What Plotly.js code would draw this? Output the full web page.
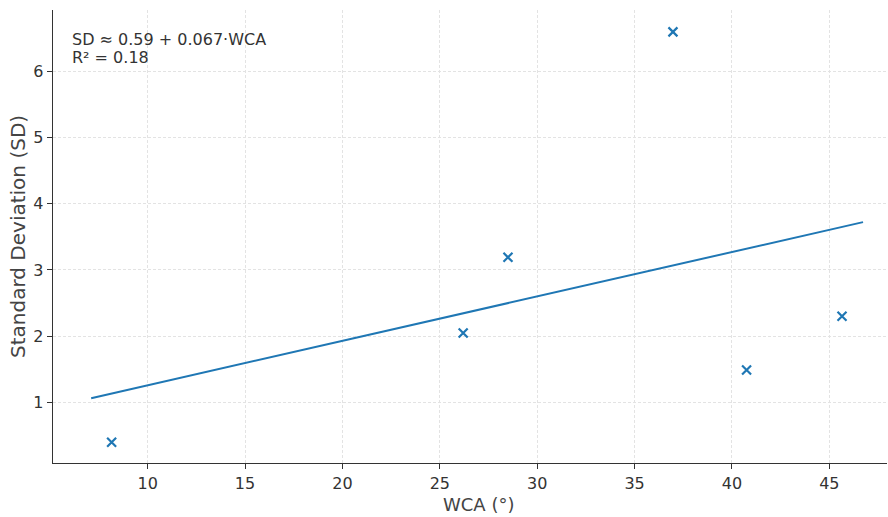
<!DOCTYPE html>
<html>
<head>
<meta charset="utf-8">
<script src="https://cdn.plot.ly/plotly-3.0.1.min.js"></script>
<style>html,body{margin:0;padding:0;background:#fff;}#chart{width:888px;height:517px;}</style>
</head>
<body>
<div id="chart"></div>
<script>
const wca = [8.15, 26.2, 28.5, 36.97, 40.75, 45.65];
const sd = [0.4, 2.05, 3.19, 6.59, 1.49, 2.3];
const intercept = 0.59;
const slope = 0.067;
const fitX = [7.1, 46.73];
const fitY = fitX.map(x => intercept + slope * x);
const eqLine1 = "SD ≈ 0.59 + 0.067·WCA";
const eqLine2 = "R² = 0.18";
const xTitle = "WCA (°)";
const yTitle = "Standard Deviation (SD)";
const xTicks = [10, 15, 20, 25, 30, 35, 40, 45];
const yTicks = [1, 2, 3, 4, 5, 6];

const font = "DejaVu Sans, sans-serif";
const data = [
  {x: fitX, y: fitY, mode: 'lines', type: 'scatter', line: {color: '#1f77b4', width: 2}, hoverinfo: 'skip'},
  {x: wca, y: sd, mode: 'markers', type: 'scatter',
   marker: {symbol: 'x-thin-open', size: 9, color: '#1f77b4', line: {color: '#1f77b4', width: 2.2}}}
];
const layout = {
  width: 888, height: 517,
  margin: {l: 53, r: 1, t: 10, b: 54},
  paper_bgcolor: '#fff', plot_bgcolor: '#fff',
  showlegend: false,
  font: {family: font, color: '#333'},
  xaxis: {
    range: [5.14, 47.96], tickvals: xTicks, ticktext: xTicks.map(String),
    showline: true, linecolor: '#333', linewidth: 1.3, mirror: false,
    ticks: 'outside', ticklen: 5, tickcolor: '#333', tickwidth: 1,
    tickfont: {family: font, size: 16, color: '#333'},
    showgrid: true, gridcolor: '#e3e3e3', gridwidth: 1, griddash: '3px,2px',
    zeroline: false
  },
  yaxis: {
    range: [0.088, 6.92], tickvals: yTicks, ticktext: yTicks.map(String),
    showline: true, linecolor: '#333', linewidth: 1.3, mirror: false,
    ticks: 'outside', ticklen: 5, tickcolor: '#333', tickwidth: 1,
    tickfont: {family: font, size: 16, color: '#333'},
    showgrid: true, gridcolor: '#e3e3e3', gridwidth: 1, griddash: '3px,2px',
    zeroline: false
  },
  annotations: [
    {xref: 'paper', yref: 'paper', x: 0.0204, y: 0.934, xanchor: 'left', yanchor: 'middle',
     text: eqLine1, showarrow: false, align: 'left', font: {family: font, size: 16, color: '#333'}},
    {xref: 'paper', yref: 'paper', x: 0.0204, y: 0.895, xanchor: 'left', yanchor: 'middle',
     text: eqLine2, showarrow: false, align: 'left', font: {family: font, size: 16, color: '#333'}},
    {xref: 'paper', yref: 'paper', x: 0.5104, y: -0.0927, xanchor: 'center', yanchor: 'middle',
     text: xTitle, showarrow: false, font: {family: font, size: 18, color: '#444'}},
    {xref: 'paper', yref: 'paper', x: -0.0426, y: 0.5, xanchor: 'center', yanchor: 'middle',
     text: yTitle, showarrow: false, textangle: -90, font: {family: font, size: 20, color: '#444'}}
  ]
};
Plotly.newPlot('chart', data, layout, {displayModeBar: false, staticPlot: true});
</script>
</body>
</html>
